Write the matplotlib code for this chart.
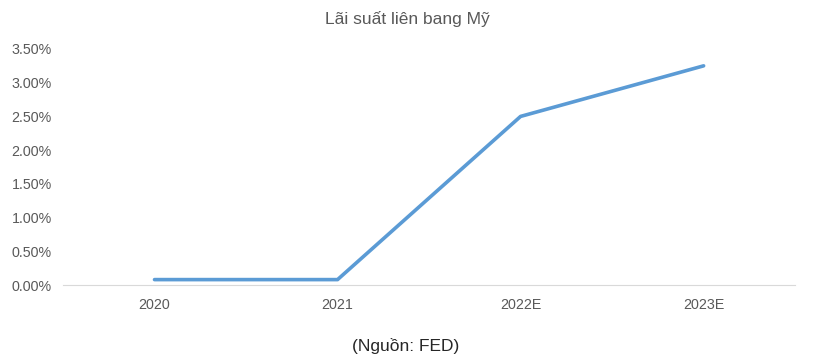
import matplotlib.pyplot as plt
from matplotlib.ticker import PercentFormatter

plt.rcParams['font.family'] = ['Liberation Sans', 'DejaVu Sans']

years = ["2020", "2021", "2022E", "2023E"]
rates = [0.08, 0.08, 2.50, 3.25]   # lãi suất (%)
y_ticks = [0, 0.5, 1.0, 1.5, 2.0, 2.5, 3.0, 3.5]

fig = plt.figure(figsize=(8.32, 3.62), dpi=100)
ax = fig.add_axes([0.0757, 0.2127, 0.88, 0.652])

ax.plot(range(len(years)), rates, color='#5B9BD5', linewidth=2.6, solid_capstyle='round')

ax.set_xlim(-0.5, len(years) - 0.5)
ax.set_ylim(0, 3.5)
ax.set_yticks(y_ticks)
ax.yaxis.set_major_formatter(PercentFormatter(decimals=2))
ax.set_xticks(range(len(years)))
ax.set_xticklabels(years)

for s in ['top', 'right', 'left']:
    ax.spines[s].set_visible(False)
ax.spines['bottom'].set_color('#D9D9D9')
ax.tick_params(axis='both', length=0, colors='#595959', labelsize=10.3)
ax.tick_params(axis='x', pad=9)
ax.tick_params(axis='y', pad=8)

fig.text(0.49, 0.948, "Lãi suất liên bang Mỹ", ha='center', va='center',
         fontsize=12.5, color='#595959')
fig.text(0.487, 0.045, "(Nguồn: FED)", ha='center', va='center',
         fontsize=12.5, color='#262626')

plt.savefig("out.png", dpi=100)
